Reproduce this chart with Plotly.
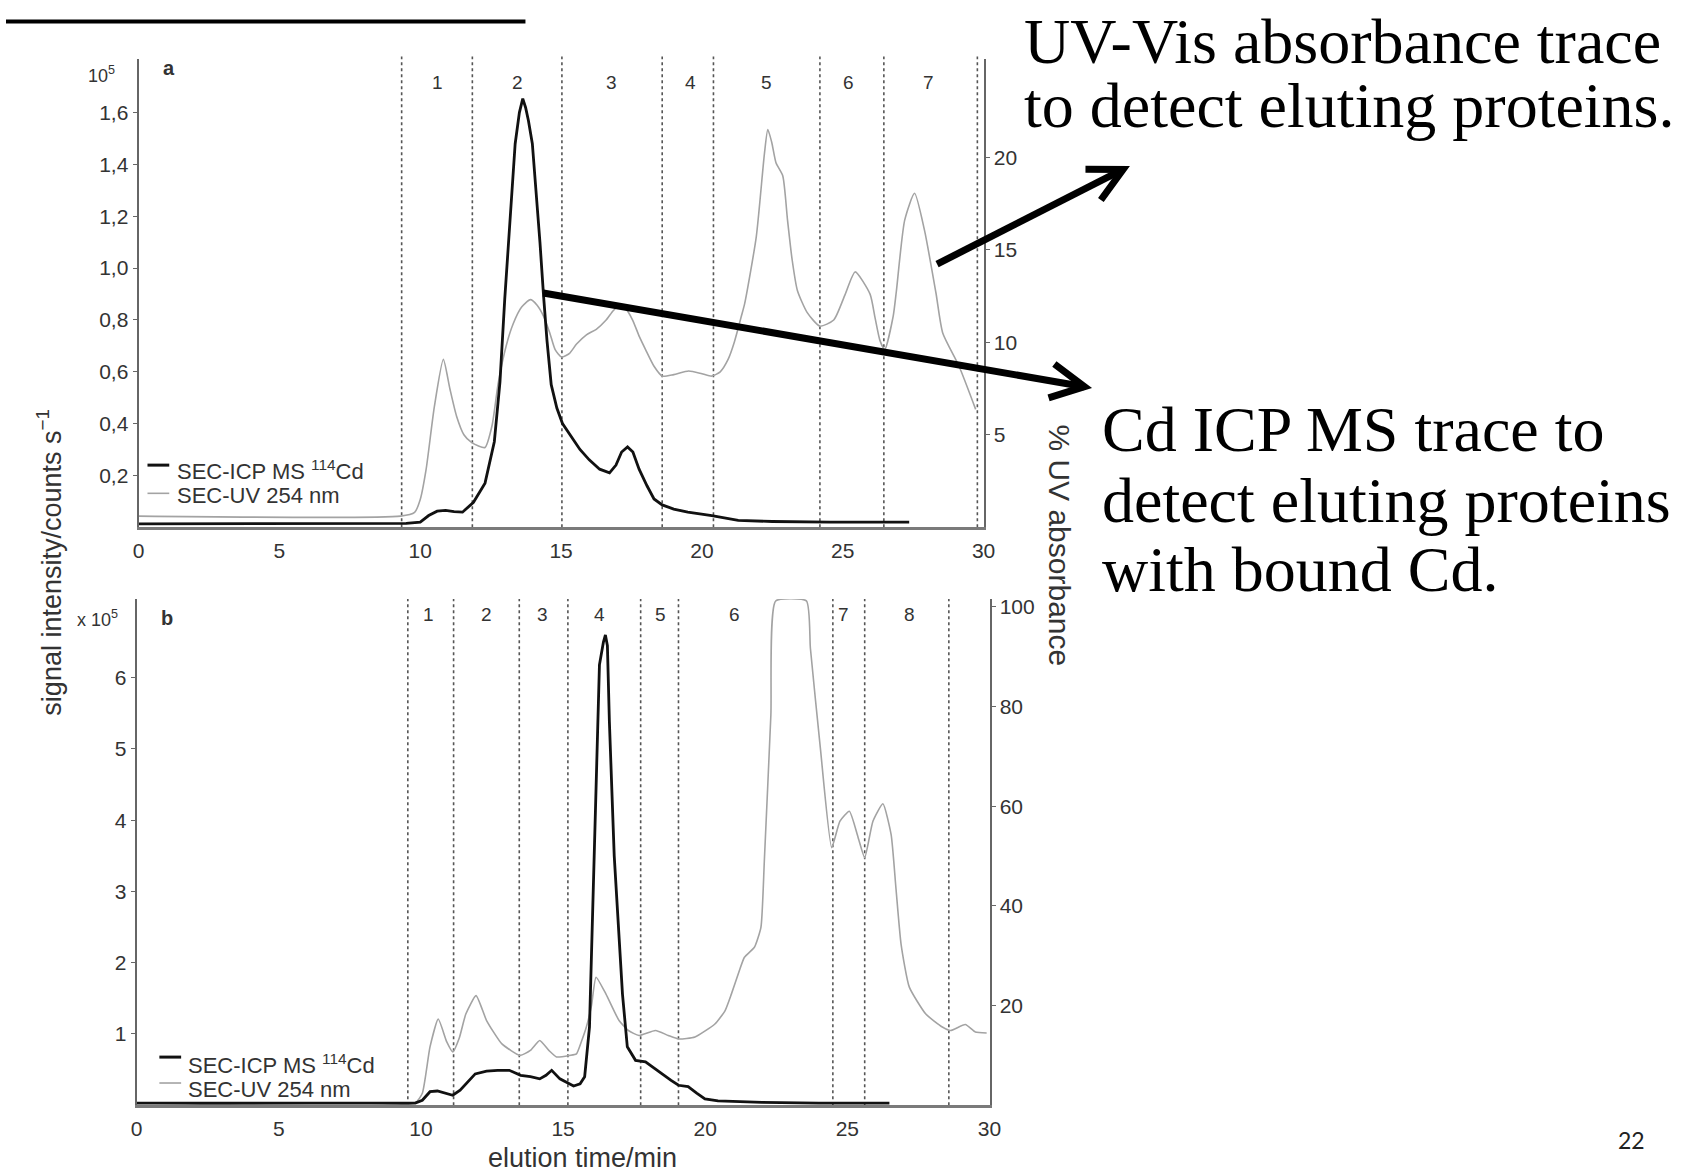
import math
import plotly.graph_objects as go

W, H = 1704, 1173


def px(x):
    return x / W


def py(y):
    return 1 - y / H


# ---------------- data (panel a) ----------------
cd_a_t = [0, 9.5, 10.0, 10.3, 10.6, 10.9, 11.2, 11.5, 11.89, 12.3, 12.63, 12.83, 13.0, 13.2, 13.37, 13.52,
          13.64, 13.74, 13.84, 13.98, 14.12, 14.25, 14.38, 14.5, 14.65, 14.85, 15.05, 15.35, 15.67, 16.0,
          16.37, 16.72, 16.95, 17.15, 17.36, 17.55, 17.77, 18.05, 18.3, 18.59, 19.0, 19.5, 20.35, 21.29,
          22.5, 24.55, 27.36]
cd_a_v = [0.013, 0.015, 0.02, 0.045, 0.062, 0.065, 0.06, 0.058, 0.096, 0.17, 0.33, 0.56, 0.88, 1.2, 1.48, 1.6,
          1.654, 1.62, 1.57, 1.48, 1.3, 1.10, 0.89, 0.72, 0.55, 0.46, 0.40, 0.35, 0.30, 0.26,
          0.224, 0.21, 0.24, 0.29, 0.31, 0.29, 0.224, 0.16, 0.109, 0.086, 0.07, 0.058, 0.045, 0.026,
          0.022, 0.02, 0.02]

uv_a_t = [0, 9.3, 9.8, 10.0, 10.21, 10.5, 10.82, 11.05, 11.29, 11.55, 11.82, 12.05, 12.3, 12.55, 12.77,
          13.05, 13.3, 13.6, 13.91, 14.15, 14.38, 14.6, 14.79, 15.02, 15.3, 15.55, 15.9, 16.25, 16.6,
          16.85, 17.07, 17.3, 17.54, 17.78, 18.0, 18.3, 18.59, 19.0, 19.53, 20.0, 20.35, 20.65, 20.93,
          21.15, 21.4, 21.52, 21.93, 22.22, 22.34, 22.48, 22.63, 22.87, 23.04, 23.2, 23.39, 23.74, 24.19,
          24.68, 25.09, 25.44, 25.97, 26.15, 26.32, 26.49, 26.79, 26.9, 27.2, 27.55, 27.9, 28.31, 28.55,
          29.13, 29.72]
uv_a_v = [0.6, 0.6, 0.8, 1.5, 3.14, 6.5, 9.07, 7.5, 6.0, 5.0, 4.58, 4.4, 4.31, 5.5, 7.8,
          9.8, 11.0, 11.9, 12.3, 12.0, 11.4, 10.5, 9.6, 9.2, 9.4, 9.9, 10.4, 10.7, 11.2,
          11.7, 12.0, 11.8, 11.2, 10.3, 9.6, 8.7, 8.17, 8.25, 8.44, 8.3, 8.17, 8.4, 9.07,
          10.0, 11.4, 12.1, 15.7, 20.2, 21.5, 20.8, 19.7, 19.0, 16.6, 14.5, 12.8, 11.6, 10.87,
          11.2, 12.6, 13.8, 12.6, 11.3, 10.1, 9.6, 11.4, 12.7, 16.6, 18.05, 16.07, 12.66, 10.5,
          8.7, 6.37]

frac_a_bounds = [9.34, 11.85, 15.03, 18.59, 20.41, 24.19, 26.46, 29.78]
frac_a_label_x = [10.6, 13.44, 16.78, 19.59, 22.28, 25.21, 28.04]
frac_a_labels = ["1", "2", "3", "4", "5", "6", "7"]

# ---------------- data (panel b) ----------------
cd_b_t = [0, 9.8, 10.05, 10.32, 10.58, 10.85, 11.12, 11.38, 11.65, 11.91, 12.31, 12.7, 13.11, 13.51, 13.85,
          14.18, 14.4, 14.6, 14.89, 15.15, 15.37, 15.6, 15.76, 15.93, 16.1, 16.16, 16.28, 16.42, 16.49,
          16.56, 16.63, 16.8, 16.95, 17.09, 17.26, 17.55, 17.9, 18.2, 18.48, 18.8, 19.06, 19.4, 19.7,
          19.99, 20.45, 22.0, 24.0, 26.48]
cd_b_v = [0.03, 0.03, 0.07, 0.19, 0.2, 0.17, 0.14, 0.21, 0.33, 0.44, 0.48, 0.49, 0.49, 0.42, 0.40,
          0.37, 0.42, 0.49, 0.37, 0.31, 0.27, 0.30, 0.40, 1.1, 3.43, 4.55, 6.18, 6.5, 6.6,
          6.45, 5.38, 3.5, 2.4, 1.56, 0.82, 0.63, 0.61, 0.52, 0.44, 0.35, 0.28, 0.26, 0.17,
          0.09, 0.06, 0.04, 0.03, 0.03]

uv_b_t = [0, 9.8, 10.05, 10.32, 10.61, 10.91, 11.12, 11.35, 11.58, 11.94, 12.31, 12.85, 13.49, 13.85,
          14.18, 14.5, 14.77, 15.24, 15.47, 15.64, 15.82, 16.0, 16.16, 16.51, 16.97, 17.3, 17.67, 18.25,
          18.7, 19.06, 19.64, 20.34, 20.7, 20.92, 21.2, 21.38, 21.73, 21.96, 22.08, 22.31, 22.48, 23.56,
          23.7, 24.05, 24.45, 24.74, 25.07, 25.38, 25.61, 25.9, 26.25, 26.54, 26.71, 26.89, 27.18, 27.76,
          28.34, 28.63, 29.15, 29.5, 29.9]
uv_b_v = [0.5, 0.5, 2.4, 11.7, 17.3, 12.7, 10.7, 13.5, 18.3, 22.0, 17.0, 12.3, 10.0, 11.0,
          13.0, 11.0, 9.7, 10.0, 10.3, 12.7, 15.7, 20.0, 25.7, 22.3, 17.0, 15.0, 14.0, 15.0,
          14.0, 13.3, 13.7, 16.3, 19.0, 22.3, 27.0, 29.7, 31.7, 35.7, 49.0, 78.3, 101.2, 101.2,
          91.7, 71.7, 51.7, 57.0, 59.0, 53.7, 49.7, 57.0, 60.5, 54.3, 43.5, 32.3, 23.7, 18.3,
          15.7, 15.0, 16.2, 14.7, 14.5]

frac_b_bounds = [9.54, 11.15, 13.46, 15.17, 17.73, 19.06, 24.49, 25.61, 28.57]
frac_b_label_x = [10.25, 12.29, 14.28, 16.28, 18.42, 21.03, 24.86, 27.18]
frac_b_labels = ["1", "2", "3", "4", "5", "6", "7", "8"]

series_names = ["SEC-ICP MS <sup>114</sup>Cd", "SEC-UV 254 nm"]

# ---------------- ticks ----------------
x_ticks = [0, 5, 10, 15, 20, 25, 30]
cd_a_ticks = [0.2, 0.4, 0.6, 0.8, 1.0, 1.2, 1.4, 1.6]
cd_a_ticklabels = ["0,2", "0,4", "0,6", "0,8", "1,0", "1,2", "1,4", "1,6"]
uv_a_ticks = [5, 10, 15, 20]
cd_b_ticks = [1, 2, 3, 4, 5, 6]
uv_b_ticks = [20, 40, 60, 80, 100]

FONT = "Liberation Sans"
TXT = "#333333"
GRAY = "#a3a3a3"
BLACK = "#111111"

fig = go.Figure()

# panel a
fig.add_trace(go.Scatter(x=uv_a_t, y=uv_a_v, xaxis="x", yaxis="y", mode="lines",
                         line=dict(color=GRAY, width=1.6, shape="spline", smoothing=0.6),
                         name=series_names[1], showlegend=False))
fig.add_trace(go.Scatter(x=cd_a_t, y=cd_a_v, xaxis="x", yaxis="y2", mode="lines",
                         line=dict(color=BLACK, width=2.8),
                         name=series_names[0], showlegend=False))
# panel b
fig.add_trace(go.Scatter(x=uv_b_t, y=uv_b_v, xaxis="x2", yaxis="y3", mode="lines",
                         line=dict(color=GRAY, width=1.6, shape="spline", smoothing=0.5),
                         name=series_names[1], showlegend=False))
fig.add_trace(go.Scatter(x=cd_b_t, y=cd_b_v, xaxis="x2", yaxis="y4", mode="lines",
                         line=dict(color=BLACK, width=2.8),
                         name=series_names[0], showlegend=False))

tickfont = dict(family=FONT, size=21, color=TXT)
common_x = dict(range=[0, 30], tickvals=x_ticks, ticks="", showline=True, linecolor="#7a7a7a",
                linewidth=3, showgrid=False, zeroline=False, tickfont=tickfont, ticklabelstandoff=3)
common_y = dict(ticks="outside", ticklen=4, tickcolor="#666", showline=True, linecolor="#666",
                linewidth=2, showgrid=False, zeroline=False, tickfont=tickfont)

fig.update_layout(
    width=W, height=H, margin=dict(l=0, r=0, t=0, b=0),
    paper_bgcolor="white", plot_bgcolor="white",
    font=dict(family=FONT, color=TXT),
    showlegend=False,
    xaxis=dict(domain=[px(134), px(988)], anchor="y", **common_x),
    yaxis=dict(domain=[py(525), py(55)], range=[0, 25.32], side="right", anchor="x",
               tickvals=uv_a_ticks, **common_y),
    yaxis2=dict(overlaying="y", side="left", anchor="x", range=[0, 1.8077],
                tickvals=cd_a_ticks, ticktext=cd_a_ticklabels, **common_y),
    xaxis2=dict(domain=[px(132), px(994)], anchor="y3", **common_x),
    yaxis3=dict(domain=[py(1105), py(597)], range=[0, 101.6], side="right", anchor="x2",
                tickvals=uv_b_ticks, **common_y),
    yaxis4=dict(overlaying="y3", side="left", anchor="x2", range=[0, 7.105],
                tickvals=cd_b_ticks, **common_y),
)

shapes = []
for t in frac_a_bounds:
    shapes.append(dict(type="line", xref="x", yref="y domain", x0=t, x1=t, y0=0, y1=1.005,
                       line=dict(color="#555", width=1.6, dash="dot"), layer="below"))
for t in frac_b_bounds:
    shapes.append(dict(type="line", xref="x2", yref="y3 domain", x0=t, x1=t, y0=0, y1=1,
                       line=dict(color="#555", width=1.6, dash="dot"), layer="below"))

# top decorative rule
shapes.append(dict(type="line", xref="paper", yref="paper", x0=px(0), x1=px(525), y0=py(17.5), y1=py(17.5),
                   line=dict(color="black", width=4)))


def arrow(x0, y0, x1, y1, width=7, head=38, ang=27):
    out = [dict(type="line", xref="paper", yref="paper", x0=px(x0), y0=py(y0), x1=px(x1), y1=py(y1),
                line=dict(color="black", width=width))]
    a = math.atan2(y0 - y1, x0 - x1)
    pts = []
    for s in (-1, 1):
        b = a + s * math.radians(ang)
        pts.append((x1 + head * math.cos(b), y1 + head * math.sin(b)))
    path = "M{},{} L{},{} L{},{}".format(px(pts[0][0]), py(pts[0][1]), px(x1), py(y1),
                                         px(pts[1][0]), py(pts[1][1]))
    out.append(dict(type="path", xref="paper", yref="paper", path=path,
                    line=dict(color="black", width=width)))
    return out


shapes += arrow(941, 261, 1129, 166)
shapes += arrow(543, 290, 1090, 384)

annotations = []
for xv, lab in zip(frac_a_label_x, frac_a_labels):
    annotations.append(dict(x=xv, y=0.949, xref="x", yref="y domain", text=lab, showarrow=False,
                            yanchor="middle", font=dict(family=FONT, size=19, color=TXT)))
for xv, lab in zip(frac_b_label_x, frac_b_labels):
    annotations.append(dict(x=xv, y=0.9685, xref="x2", yref="y3 domain", text=lab, showarrow=False,
                            yanchor="middle", font=dict(family=FONT, size=19, color=TXT)))


def ptext(x, y, text, size, family=FONT, color=TXT, xanchor="center", yanchor="middle", angle=0):
    return dict(x=px(x), y=py(y), xref="paper", yref="paper", text=text, showarrow=False,
                xanchor=xanchor, yanchor=yanchor, textangle=angle,
                font=dict(family=family, size=size, color=color))


# hand-placed legends (tight line spacing as in the reference)
legend_specs = [
    (143, 165, 171, [(462.7, 468), (491, 493)]),
    (155, 177, 182, [(1056.7, 1064), (1082.7, 1089)]),
]
legend_styles = [dict(color=BLACK, width=3), dict(color=GRAY, width=1.6)]
for sx0, sx1, tx, rows in legend_specs:
    for (ly, ty), name, st in zip(rows, series_names, legend_styles):
        shapes.append(dict(type="line", xref="paper", yref="paper", x0=px(sx0), x1=px(sx1),
                           y0=py(ly), y1=py(ly), line=st))
        annotations.append(ptext(tx, ty, name, 22, xanchor="left"))

annotations += [
    ptext(165, 64, "<b>a</b>", 20),
    ptext(163, 616, "<b>b</b>", 20),
    ptext(97, 71, "10<sup>5</sup>", 18),
    ptext(92, 617, "x 10<sup>5</sup>", 18),
    ptext(44, 560, "signal intensity/counts s<sup>\u22121</sup>", 27, angle=-90),
    ptext(1065, 543, "% UV absorbance", 30, angle=90),
    ptext(583, 1158, "elution time/min", 27),
]

SERIF = "Liberation Serif"
annotations += [
    ptext(1027, 38, "UV-Vis absorbance trace", 64, family=SERIF, color="black", xanchor="left"),
    ptext(1027, 102, "to detect eluting proteins.", 64, family=SERIF, color="black", xanchor="left"),
    ptext(1106, 427, "Cd ICP MS trace to", 64, family=SERIF, color="black", xanchor="left"),
    ptext(1106, 498, "detect eluting proteins", 64, family=SERIF, color="black", xanchor="left"),
    ptext(1106, 567, "with bound Cd.", 64, family=SERIF, color="black", xanchor="left"),
    ptext(1643, 1140, "22", 23, family="Lato", color="#222"),
]

fig.update_layout(shapes=shapes, annotations=annotations)
fig.write_html("out.html")
